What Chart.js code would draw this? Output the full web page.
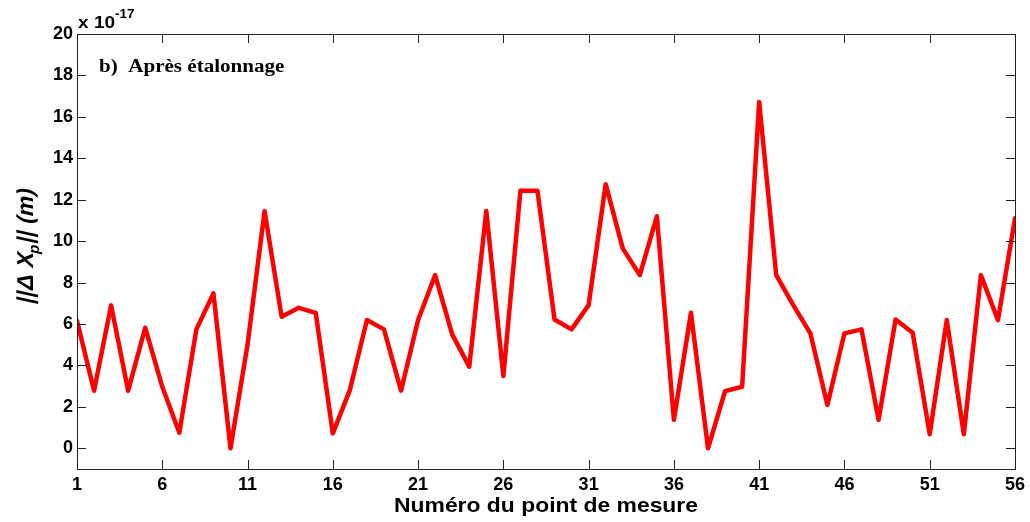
<!DOCTYPE html>
<html>
<head>
<meta charset="utf-8">
<title>Après étalonnage</title>
<script src="https://cdn.jsdelivr.net/npm/chart.js@4.4.1/dist/chart.umd.min.js"></script>
<style>
  body { margin: 0; background: #fff; }
  #wrap { width: 1030px; height: 522px; }
</style>
</head>
<body>
<div id="wrap"><canvas id="chart" width="1030" height="522"></canvas></div>
<script>
// measurement numbers (x) and error norm (x 1e-17 m)
const pointNumbers = [1, 2, 3, 4, 5, 6, 7, 8, 9, 10, 11, 12, 13, 14, 15, 16, 17, 18, 19, 20,
  21, 22, 23, 24, 25, 26, 27, 28, 29, 30, 31, 32, 33, 34, 35, 36, 37, 38, 39, 40,
  41, 42, 43, 44, 45, 46, 47, 48, 49, 50, 51, 52, 53, 54, 55, 56];
const errorNorm = [6.15, 2.78, 6.9, 2.78, 5.82, 2.97, 0.75, 5.74, 7.48, 0.0,
  5.0, 11.45, 6.35, 6.78, 6.54, 0.72, 2.81, 6.19, 5.74, 2.78,
  6.19, 8.36, 5.5, 3.94, 11.45, 3.49, 12.43, 12.43, 6.22, 5.74,
  6.91, 12.75, 9.65, 8.36, 11.2, 1.37, 6.54, 0.0, 2.76, 2.97,
  16.72, 8.36, 6.91, 5.55, 2.09, 5.55, 5.74, 1.37, 6.22, 5.58,
  0.68, 6.19, 0.68, 8.36, 6.19, 11.1];
const xTicks = [1, 6, 11, 16, 21, 26, 31, 36, 41, 46, 51, 56];
const yTicks = [0, 2, 4, 6, 8, 10, 12, 14, 16, 18, 20];

const tickFont = { family: 'Liberation Sans, Arial, sans-serif', size: 18, weight: 'bold' };
const SANS = 'Liberation Sans, Arial, sans-serif';

// the original figure is a bit wider than tall, so stretch text sideways
function wideText(ctx, text, x, y, align, sx) {
  ctx.save();
  ctx.translate(x, y);
  ctx.scale(sx, 1);
  ctx.textAlign = align;
  ctx.fillText(text, 0, 0);
  ctx.restore();
}

// box, inward ticks and all the extra labels
const decorations = {
  id: 'decorations',
  afterDraw(chart) {
    const { ctx, chartArea: a, scales: { x, y } } = chart;
    ctx.save();
    ctx.strokeStyle = '#222';
    ctx.lineWidth = 1;
    ctx.strokeRect(a.left + 0.5, a.top + 0.5, a.right - a.left, a.bottom - a.top);

    const len = 9;
    ctx.beginPath();
    xTicks.forEach(v => {
      const px = Math.round(x.getPixelForValue(v)) + 0.5;
      ctx.moveTo(px, a.bottom); ctx.lineTo(px, a.bottom - len);
      ctx.moveTo(px, a.top); ctx.lineTo(px, a.top + len);
    });
    yTicks.forEach(v => {
      const py = Math.round(y.getPixelForValue(v)) + 0.5;
      ctx.moveTo(a.left, py); ctx.lineTo(a.left + len, py);
      ctx.moveTo(a.right, py); ctx.lineTo(a.right - len, py);
    });
    ctx.stroke();

    ctx.fillStyle = '#000';
    ctx.textBaseline = 'alphabetic';
    // exponent
    ctx.font = 'bold 17px ' + SANS;
    wideText(ctx, 'x 10', 78, 28, 'left', 1.12);
    ctx.font = 'bold 12px ' + SANS;
    wideText(ctx, '-17', 115, 18, 'left', 1.12);

    // panel label
    ctx.font = 'bold 18px Liberation Serif, Times New Roman, serif';
    wideText(ctx, 'b)  Après étalonnage', 99, 72, 'left', 1.17);

    // x title
    ctx.font = 'bold 21px ' + SANS;
    wideText(ctx, 'Numéro du point de mesure', (a.left + a.right) / 2, 512, 'center', 1.09);

    // y title, rotated and slanted, with subscript p
    const big = 'bold 23px ' + SANS;
    const small = 'bold 15px ' + SANS;
    const parts = [['||\u0394 X', big, 0], ['p', small, 6], ['|| (m)', big, 0]];
    ctx.textAlign = 'left';
    let total = 0;
    parts.forEach(p => { ctx.font = p[1]; total += ctx.measureText(p[0]).width; });
    ctx.translate(33, 247);
    ctx.rotate(-Math.PI / 2);
    ctx.transform(1, 0, -0.22, 1, 0, 0);
    let cx = -total / 2;
    parts.forEach(p => {
      ctx.font = p[1];
      ctx.fillText(p[0], cx, p[2]);
      cx += ctx.measureText(p[0]).width;
    });
    ctx.restore();
  }
};

new Chart(document.getElementById('chart'), {
  type: 'line',
  data: {
    datasets: [{
      data: pointNumbers.map((n, i) => ({ x: n, y: errorNorm[i] })),
      borderColor: '#ff0000',
      borderWidth: 4.5,
      borderJoinStyle: 'round',
      borderCapStyle: 'round',
      pointRadius: 0,
      tension: 0,
      fill: false
    }]
  },
  options: {
    responsive: false,
    animation: false,
    layout: { padding: { top: 34, right: 15, bottom: 0, left: 0 } },
    plugins: { legend: { display: false }, tooltip: { enabled: false } },
    scales: {
      x: {
        type: 'linear',
        min: 1,
        max: 56,
        afterBuildTicks: s => { s.ticks = xTicks.map(v => ({ value: v })); },
        afterFit: s => { s.height = 53; },
        grid: { display: false, drawTicks: false },
        border: { display: false },
        ticks: { font: tickFont, color: '#000', padding: 5, maxRotation: 0, autoSkip: false }
      },
      y: {
        type: 'linear',
        min: -1,
        max: 20,
        afterBuildTicks: s => { s.ticks = yTicks.map(v => ({ value: v })); },
        afterFit: s => { s.width = 77; },
        grid: { display: false, drawTicks: false },
        border: { display: false },
        ticks: { font: tickFont, color: '#000', padding: 4 }
      }
    }
  },
  plugins: [decorations]
});
</script>
</body>
</html>
